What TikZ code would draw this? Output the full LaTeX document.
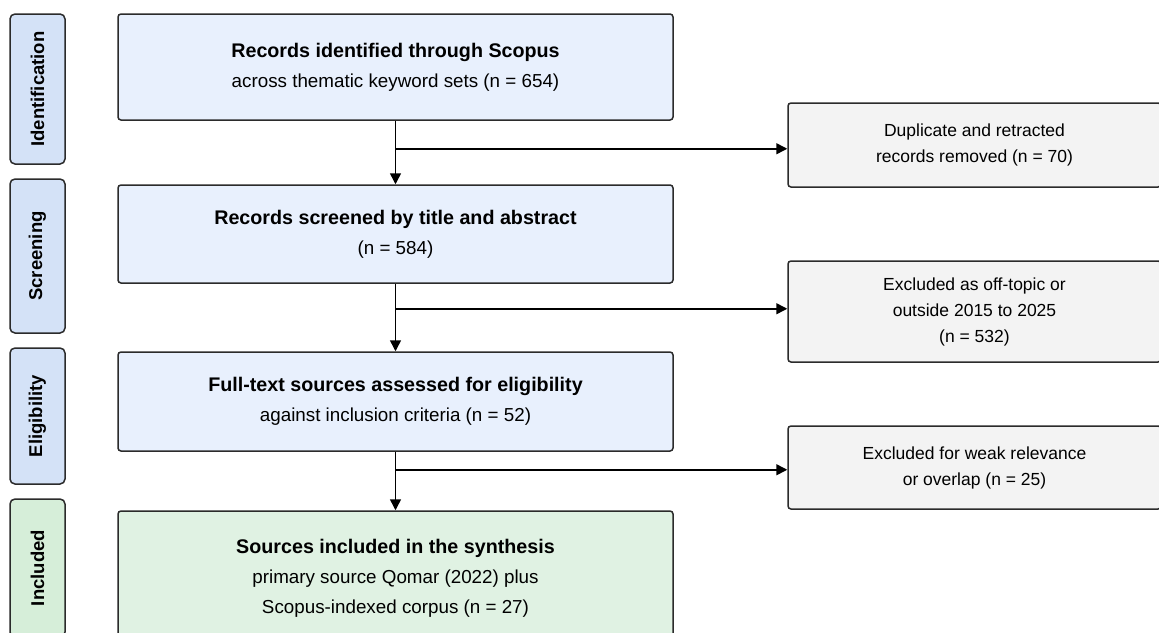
\documentclass[tikz,border=0pt]{standalone}
\usepackage{fontspec}
\setmainfont{Liberation Sans}
\usetikzlibrary{arrows.meta}
\definecolor{mainblue}{RGB}{232,240,253}
\definecolor{phaseblue}{RGB}{212,226,247}
\definecolor{maingreen}{RGB}{224,242,227}
\definecolor{phasegreen}{RGB}{214,238,217}
\definecolor{sidegray}{RGB}{243,243,243}
\definecolor{edge}{RGB}{43,43,43}
\begin{document}
\begin{tikzpicture}[x=1pt,y=1pt,
  phase/.style={draw=edge, line width=1.5pt, rounded corners=5pt, minimum height=55pt, inner sep=0pt,
    font=\bfseries\fontsize{18.5}{20}\selectfont},
  mainbox/.style={draw=edge, line width=1.5pt, rounded corners=3pt, minimum width=555pt, inner sep=0pt,
    align=center, font=\fontsize{18.8}{30}\selectfont},
  sidebox/.style={draw=edge, line width=1.5pt, rounded corners=3pt, fill=sidegray, minimum width=373pt, inner sep=0pt,
    align=center, font=\fontsize{17.5}{26}\selectfont},
  arr/.style={draw=black, line width=1.5pt, -{Triangle[length=11pt,width=11pt]}}
]
\useasboundingbox (0,0) rectangle (1159,-632);
\fill[white] (0,0) rectangle (1159,-632);
\begin{scope}
\clip (0,0) rectangle (1159,-632);
% phase labels
\node[phase, fill=phaseblue, minimum width=150pt, rotate=90] (p1) at (37.5,-89) {Identification};
\node[phase, fill=phaseblue, minimum width=154pt, rotate=90] (p2) at (37.5,-256) {Screening};
\node[phase, fill=phaseblue, minimum width=136pt, rotate=90] (p3) at (37.5,-416) {Eligibility};
\node[phase, fill=phasegreen, minimum width=138pt, rotate=90] (p4) at (37.5,-568) {Included};
% main boxes
\node[mainbox, fill=mainblue, minimum height=106pt] (b1) at (395.5,-67)
  {{\bfseries\fontsize{19.7}{30}\selectfont Records identified through Scopus}\\ across thematic keyword sets (n = 654)};
\node[mainbox, fill=mainblue, minimum height=98pt] (b2) at (395.5,-234)
  {{\bfseries\fontsize{19.7}{30}\selectfont Records screened by title and abstract}\\ (n = 584)};
\node[mainbox, fill=mainblue, minimum height=99pt] (b3) at (395.5,-401.5)
  {{\bfseries\fontsize{19.7}{30}\selectfont Full-text sources assessed for eligibility}\\ against inclusion criteria (n = 52)};
\node[mainbox, fill=maingreen, minimum height=134pt] (b4) at (395.5,-578)
  {{\bfseries\fontsize{19.7}{30}\selectfont Sources included in the synthesis}\\ primary source Qomar (2022) plus\\ Scopus-indexed corpus (n = 27)};
% side boxes
\node[sidebox, minimum height=84pt] (r1) at (974.5,-145) {Duplicate and retracted\\ records removed (n = 70)};
\node[sidebox, minimum height=101pt] (r2) at (974.5,-311.5) {Excluded as off-topic or\\ outside 2015 to 2025\\ (n = 532)};
\node[sidebox, minimum height=83pt] (r3) at (974.5,-467.5) {Excluded for weak relevance\\ or overlap (n = 25)};
% connectors
\coordinate (j1) at ([yshift=-28pt]b1.south);
\coordinate (j2) at ([yshift=-25pt]b2.south);
\coordinate (j3) at ([yshift=-18pt]b3.south);
\draw[arr] (b1.south) -- (b2.north);
\draw[arr] (b2.south) -- (b3.north);
\draw[arr] (b3.south) -- (b4.north);
\draw[arr] (j1) -- (j1 -| r1.west);
\draw[arr] (j2) -- (j2 -| r2.west);
\draw[arr] (j3) -- (j3 -| r3.west);
\end{scope}
\end{tikzpicture}
\end{document}
